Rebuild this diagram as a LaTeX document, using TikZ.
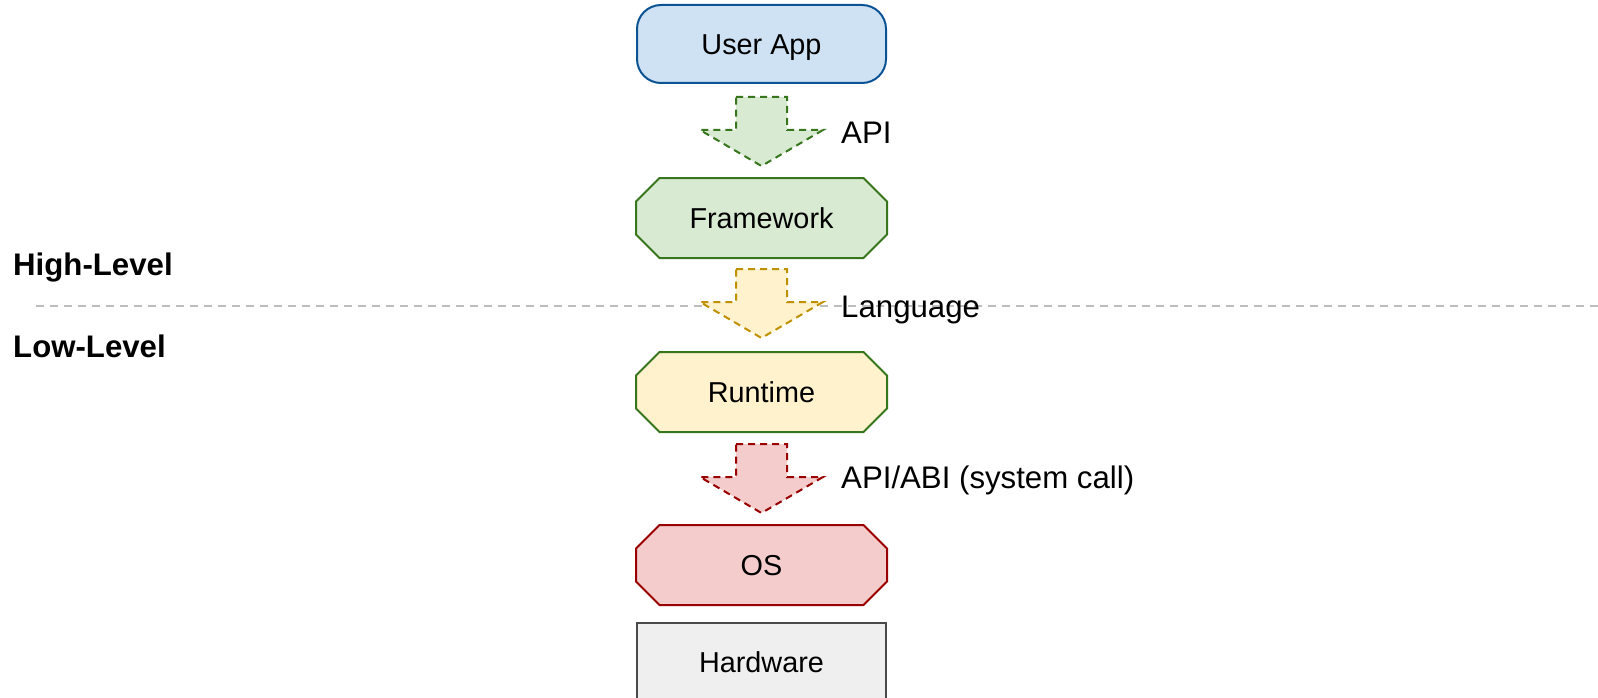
\documentclass[tikz,border=0pt]{standalone}
\usepackage{fontspec}
\setmainfont{Liberation Sans}
\usetikzlibrary{backgrounds,calc}
\definecolor{blueF}{HTML}{CFE2F3}
\definecolor{blueS}{HTML}{0B5394}
\definecolor{greenF}{HTML}{D9EAD3}
\definecolor{greenS}{HTML}{38761D}
\definecolor{yelF}{HTML}{FFF2CC}
\definecolor{yelS}{HTML}{BF9000}
\definecolor{redF}{HTML}{F4CCCC}
\definecolor{redS}{HTML}{990000}
\definecolor{grayF}{HTML}{EFEFEF}
\definecolor{grayS}{HTML}{4A4A4A}
\definecolor{sepS}{HTML}{BDBDBD}
\newcommand\myoct[3]{%
  \draw[line width=2pt, fill=#2, draw=#3]
    ($(#1.north west)+(23.5,0)$) -- ($(#1.north east)+(-23.5,0)$) --
    ($(#1.north east)+(0,23.5)$) -- ($(#1.south east)+(0,-23.5)$) --
    ($(#1.south east)+(-23.5,0)$) -- ($(#1.south west)+(23.5,0)$) --
    ($(#1.south west)+(0,-23.5)$) -- ($(#1.north west)+(0,23.5)$) -- cycle;}
\newcommand\myblk[3]{%
  \draw[blkarrow, fill=#2, draw=#3]
    (736,#1) -- (787,#1) -- (787,{#1+33}) -- (823,{#1+33}) --
    (761.5,{#1+69}) -- (700,{#1+33}) -- (736,{#1+33}) -- cycle;}
\begin{document}
\begin{tikzpicture}[x=1pt,y=-1pt,
  box/.style={minimum width=249pt, minimum height=78pt, inner sep=0pt,
    text height=20.6pt, text depth=0pt,
    font=\fontsize{28.8}{34}\selectfont, line width=2pt},
  lbl/.style={anchor=base west, inner sep=0pt, font=\fontsize{31.2}{37}\selectfont},
  side/.style={anchor=base west, inner sep=0pt, font=\bfseries\fontsize{31.2}{37}\selectfont},
  blkarrow/.style={dash pattern=on 7pt off 5pt, line width=2pt, line join=miter},
  sepline/.style={draw=sepS, line width=2pt, dash pattern=on 8pt off 6pt}]
\useasboundingbox (0,0) rectangle (1598,698);
% separator
\coordinate (sl) at (36,306);
\coordinate (sr) at (1598,306);
\draw[sepline] (sl) -- (sr);
% side labels
\node[side] (hl) at (13,275) {High-Level};
\node[side] (ll) at (13,357) {Low-Level};
% boxes
\node[box, draw=blueS, fill=blueF, rounded corners=24pt] (ua) at (761.5,44) {User App};
\node[box] (fw) at (761.5,218) {Framework};
\node[box] (rt) at (761.5,392) {Runtime};
\node[box] (os) at (761.5,565) {OS};
\node[box, draw=grayS, fill=grayF] (hw) at (761.5,662) {Hardware};
\begin{pgfonlayer}{background}
\myoct{fw}{greenF}{greenS}
\myoct{rt}{yelF}{greenS}
\myoct{os}{redF}{redS}
\end{pgfonlayer}
% block arrows
\myblk{97}{greenF}{greenS}
\myblk{269}{yelF}{yelS}
\myblk{444}{redF}{redS}
% labels
\node[lbl] (lapi) at (841,143) {API};
\node[lbl] (llang) at (841,317) {Language};
\node[lbl] (labi) at (841,488) {API/ABI (system call)};
\end{tikzpicture}
\end{document}
